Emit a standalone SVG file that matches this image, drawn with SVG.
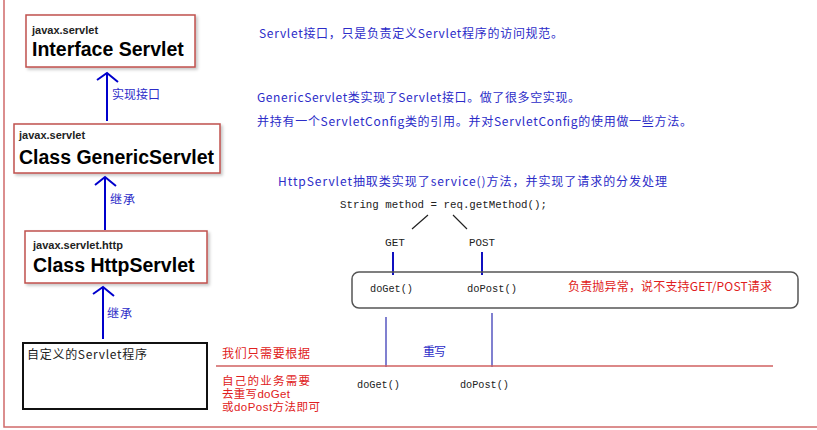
<svg xmlns="http://www.w3.org/2000/svg" width="817" height="430" viewBox="0 0 817 430">
<defs>
<style>
.box{fill:#fff;stroke:#c0504d;stroke-width:1.5}
.pkg{font-family:"Liberation Sans",Arial,sans-serif;font-weight:bold;font-size:11px;fill:#222}
.cls{font-family:"Liberation Sans",Arial,sans-serif;font-weight:bold;font-size:19.5px;fill:#000}
.cn{font-family:"Noto Sans CJK SC",sans-serif;font-size:12px}
.cn2{font-family:"Liberation Sans","Noto Sans CJK SC",sans-serif;font-size:11.5px}
.blue{fill:#2c2cc8}
.red{fill:#e02020}
.blk{fill:#222}
.mono{font-family:"Liberation Mono","Noto Sans CJK SC",monospace;font-size:11.5px;fill:#222}
.arr{stroke:#0000cc;stroke-width:2;fill:none}
.thin{stroke:#222;stroke-width:1.2;fill:none}
.bl{stroke:#1010c0;stroke-width:2;fill:none}
.pl{stroke:#8080d0;stroke-width:2;fill:none}
</style>
<filter id="sh" x="-10%" y="-10%" width="130%" height="140%">
<feDropShadow dx="2" dy="2" stdDeviation="1.5" flood-color="#000" flood-opacity="0.22"/>
</filter>
</defs>
<rect width="817" height="430" fill="#fff"/>
<rect x="4" y="-5" width="830" height="432" fill="none" stroke="#d06a6a" stroke-width="1.5"/>

<g id="interface-servlet">
<rect class="box" x="26" y="15" width="169" height="52" filter="url(#sh)"/>
<text class="pkg" x="32" y="34">javax.servlet</text>
<text class="cls" x="32" y="56">Interface Servlet</text>
</g>
<g id="generic-servlet">
<rect class="box" x="14" y="124" width="206" height="49" filter="url(#sh)"/>
<text class="pkg" x="19" y="139">javax.servlet</text>
<text class="cls" x="19" y="164">Class GenericServlet</text>
</g>
<g id="http-servlet">
<rect class="box" x="25" y="231" width="182" height="52" filter="url(#sh)"/>
<text class="pkg" x="33" y="249">javax.servlet.http</text>
<text class="cls" x="33" y="272">Class HttpServlet</text>
</g>
<g id="custom-servlet">
<rect x="23" y="343" width="184" height="66" fill="#fff" stroke="#111" stroke-width="2"/>
<text class="cn blk" x="27" y="359" textLength="120">自定义的Servlet程序</text>
</g>

<g id="connectors">
<path class="arr" d="M107 121V73M97 80L107 73L118 82"/>
<path class="arr" d="M105 230V177M95 185L105 177L116 186"/>
<path class="arr" d="M103 339V287M93 294L103 287L114 296"/>
<path class="thin" d="M428 215L412 229M453 215L467 229"/>
<path class="bl" d="M393 252V275M482 252V275"/>
<path class="pl" d="M386 317V367M492 313V367"/>
<path d="M216 366H773" stroke="#d06060" stroke-width="1.5"/>
</g>

<g id="labels">
<text class="cn blue" x="112" y="99" textLength="48">实现接口</text>
<text class="cn blue" x="110" y="204" textLength="25">继承</text>
<text class="cn blue" x="107" y="318" textLength="25">继承</text>
<text class="cn blue" x="259" y="38" textLength="304">Servlet接口，只是负责定义Servlet程序的访问规范。</text>
<text class="cn blue" x="257" y="102" textLength="323">GenericServlet类实现了Servlet接口。做了很多空实现。</text>
<text class="cn blue" x="257" y="126" textLength="435">并持有一个ServletConfig类的引用。并对ServletConfig的使用做一些方法。</text>
<text class="cn blue" x="278" y="186" textLength="389">HttpServlet抽取类实现了service()方法，并实现了请求的分发处理</text>
<text class="mono" x="340" y="208" textLength="207" lengthAdjust="spacingAndGlyphs">String method = req.getMethod();</text>
<text class="mono" x="385" y="246" textLength="20" lengthAdjust="spacingAndGlyphs">GET</text>
<text class="mono" x="469" y="246" textLength="26" lengthAdjust="spacingAndGlyphs">POST</text>
</g>

<g id="http-methods">
<rect x="352" y="272" width="446" height="36" rx="7" fill="none" stroke="#555" stroke-width="1.5"/>
<text class="mono" x="370" y="292" textLength="43" lengthAdjust="spacingAndGlyphs">doGet()</text>
<text class="mono" x="467" y="292" textLength="50" lengthAdjust="spacingAndGlyphs">doPost()</text>
<text class="cn red" x="568" y="291" textLength="204">负责抛异常，说不支持GET/POST请求</text>
</g>

<g id="override">
<text class="cn blue" x="423" y="356" textLength="23">重写</text>
<text class="mono" x="357" y="388" textLength="43" lengthAdjust="spacingAndGlyphs">doGet()</text>
<text class="mono" x="460" y="388" textLength="49" lengthAdjust="spacingAndGlyphs">doPost()</text>
<text class="cn red" x="222" y="358" textLength="88">我们只需要根据</text>
<text class="cn2 red" x="222" y="385" textLength="88">自己的业务需要</text>
<text class="cn2 red" x="222" y="398" textLength="68">去重写doGet</text>
<text class="cn2 red" x="222" y="411" textLength="98">或doPost方法即可</text>
</g>
</svg>
